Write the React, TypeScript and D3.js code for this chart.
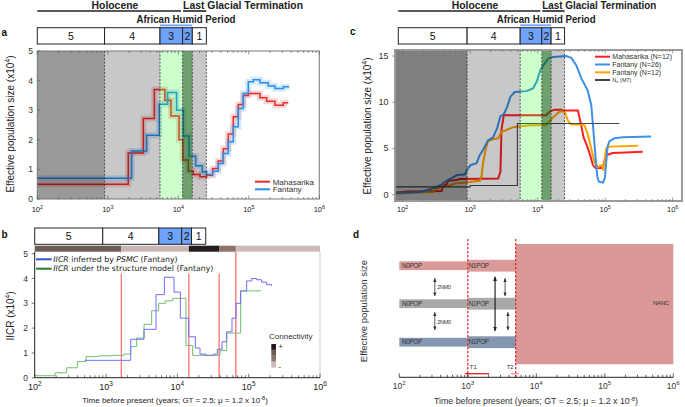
import React from 'react';
import * as d3 from 'd3';

// ---------------- data ----------------
const periodBounds = [900, 5500, 11500, 15800, 25000];
const periodLabels = ['5', '4', '3', '2', '1'];
const humidIdx = [2, 3];
const holoceneEnd = 11500;

// panel a (PSMC, step functions)
const aMahT = [100, 1950, 3190, 4570, 6460, 7870, 10240, 11600, 13900, 16300, 20300, 25240, 30690, 36900, 43450, 51170, 60250, 70940, 83530, 98400, 144000, 179000, 235000, 308000, 363000];
const aMahN = [0.5, 1.55, 2.72, 3.7, 3.34, 2.8, 2.0, 1.32, 0.94, 0.83, 0.75, 0.8, 1.03, 1.28, 1.7, 2.2, 2.78, 3.19, 3.5, 3.56, 3.42, 3.3, 3.17, 3.25, 3.25];
const aFanT = [100, 2180, 3560, 5370, 7060, 9460, 11770, 14170, 17620, 21890, 25240, 30690, 36900, 43450, 51170, 60250, 70940, 83530, 98400, 115900, 144000, 189000, 235000, 309000, 375000];
const aFanN = [0.7, 1.62, 2.15, 3.2, 3.6, 3.0, 2.13, 1.45, 1.12, 0.92, 0.83, 0.94, 1.2, 1.54, 1.93, 2.44, 3.06, 3.56, 3.96, 4.03, 3.93, 3.82, 3.73, 3.79, 3.79];

// panel b (IICR)
const bPsmcT = [502, 2218, 3410, 5024, 6576, 8977, 11020, 14430, 17880, 20790, 25230, 31970, 36380, 42290, 49170, 58400, 66400, 77200, 93700, 110200, 129400, 152000, 178600, 209900];
const bPsmcN = [0.7, 1.55, 1.95, 3.35, 4.05, 3.45, 2.4, 1.65, 1.2, 0.95, 0.9, 0.95, 1.15, 1.45, 1.85, 2.4, 3.0, 3.5, 3.9, 4.0, 3.95, 3.85, 3.75, 3.7];
const bStructT = [100, 193, 281, 397, 524, 789, 1200, 1786, 2218, 2690, 3410, 4366, 5470, 6793, 8610, 13210, 16400, 39630, 49170, 77200, 144200];
const bStructN = [0.08, 0.2, 0.4, 0.65, 0.85, 0.88, 0.9, 0.95, 1.25, 1.6, 2.15, 2.7, 3.0, 3.1, 3.2, 1.3, 0.9, 1.1, 1.8, 3.5, 3.55];
const connBounds = [100, 1640, 14500, 38500, 66000, 1000000];
const connColors = ['#6e5b53', '#c9b6b6', '#241d1d', '#8c736b', '#cdbaba'];
const connLegend = ['#231c1c', '#6e5b53', '#8c736b', '#cdbaba'];
const bVLines = [1640, 14500, 38500, 66000];

// panel c
const cMahT = [77, 115, 377, 399, 447, 473, 628, 703, 2594, 2806, 2904, 3145, 13430, 15030, 17820, 22370, 23660, 39420, 44170, 47840, 52380, 58660, 65750, 71940, 87250, 94470, 101100, 115900, 129800, 360600];
const cMahN = [0.2, 0.35, 0.4, 1.0, 1.1, 1.5, 1.6, 1.7, 1.75, 2.5, 7.0, 8.6, 8.6, 9.0, 9.2, 9.2, 9.1, 9.1, 7.5, 6.2, 5.5, 4.5, 3.2, 2.9, 2.9, 3.2, 4.2, 4.4, 4.5, 4.65];
const cFan26T = [77, 180, 284, 356, 447, 530, 628, 834, 903, 1011, 1241, 1390, 1592, 1845, 2187, 2506, 2807, 3145, 3523, 3946, 4573, 6801, 8531, 9775, 10950, 12690, 14210, 16850, 26520, 31440, 37260, 44190, 54820, 62120, 65720, 71160, 76170, 80620, 92360, 98880, 103500, 108300, 115900, 137400, 182400, 478400];
const cFan26N = [0.2, 0.3, 0.7, 1.0, 1.5, 1.8, 2.1, 2.2, 2.7, 3.2, 3.4, 4.3, 5.0, 5.9, 6.2, 7.2, 8.5, 8.7, 9.5, 10.6, 11.1, 11.2, 11.5, 12.3, 13.5, 14.2, 14.7, 14.9, 15.0, 14.8, 14.0, 12.6, 11.3, 9.7, 7.6, 4.5, 2.0, 1.4, 1.3, 1.8, 3.5, 5.2, 5.8, 6.1, 6.2, 6.3];
const cFan12T = [77, 144, 284, 300, 447, 593, 788, 1390, 1471, 1556, 1704, 1845, 2187, 2593, 2905, 3444, 4320, 7617, 13430, 15040, 17830, 21140, 25060, 28070, 31440, 39450, 49510, 55420, 62120, 69570, 77900, 90300, 94500, 98880, 103500, 115900, 304000];
const cFan12N = [0.1, 0.25, 0.3, 0.6, 0.9, 1.2, 1.3, 1.5, 2.0, 3.5, 5.0, 5.8, 6.0, 6.1, 6.8, 7.0, 7.3, 7.5, 7.5, 8.0, 8.5, 9.0, 9.0, 8.0, 7.6, 7.6, 7.5, 6.5, 5.0, 3.5, 3.0, 3.2, 2.6, 4.0, 5.0, 5.2, 5.3];
const neT = [77, 1000, 5000, 162000];
const neN = [0.85, 1.0, 7.7, 7.7];
const cLegend = ['Mahasarika (N=12)', 'Fantany (N=26)', 'Fantany (N=12)'];
const cColors = ['#ff1f1f', '#3d90e6', '#ffa200'];

// panel d
const dT1 = 1000;
const dT2 = 5000;
const dT1Range = [910, 2060];
const dT2Range = [4270, 5580];
const dRows = [
  { fill: '#d99a99', cy: 265.7 },
  { fill: '#a9a9a9', cy: 303.7 },
  { fill: '#8597b0', cy: 342.2 },
];
const dArrowSmallT = 330;
const dArrowBigT = 2500;
const dArrowRightT = [3500, 3850];

const FONT = 'Liberation Sans, Arial, sans-serif';

function pairs(t: number[], n: number[]): [number, number][] {
  return t.map((v, i) => [v, n[i]]);
}

function logTicks(lo: number, hi: number) {
  const out: { v: number; major: boolean; e: number }[] = [];
  for (let e = Math.floor(Math.log10(lo)); e <= Math.ceil(Math.log10(hi)); e++) {
    for (let m = 1; m <= 9; m++) {
      const v = m * Math.pow(10, e);
      if (v >= lo * 0.999 && v <= hi * 1.001) out.push({ v, major: m === 1, e });
    }
  }
  return out;
}

function Pow({ x, y, e, fs, fill = '#222' }: any) {
  return (
    <text x={x} y={y} fontSize={fs} textAnchor="middle" fill={fill} fontFamily={FONT}>
      10<tspan fontSize={fs * 0.72} dy={-fs * 0.42}>{e}</tspan>
    </text>
  );
}

function Periods({ x, start, top, titles, lgtLen = 120 }: any) {
  const edges = [start, ...periodBounds];
  const xs = edges.map((v: number) => x(v));
  const hEnd = x(holoceneEnd);
  const bTop = top + 27.7;
  const bH = 16.3;
  return (
    <g fontFamily={FONT}>
      {titles && (
        <g>
          <text x={(xs[0] + hEnd) / 2 + 5} y={top + 8.5} fontSize={10.4} fontWeight="bold" textAnchor="middle" fill="#222"
            textLength={46.7} lengthAdjust="spacingAndGlyphs">Holocene</text>
          <line x1={xs[0]} x2={hEnd - 1.5} y1={top + 11} y2={top + 11} stroke="#222" strokeWidth={1.6} />
          <text x={hEnd + 0.5} y={top + 8.5} fontSize={10.4} fontWeight="bold" fill="#222"
            textLength={lgtLen} lengthAdjust="spacingAndGlyphs">Last Glacial Termination</text>
          <line x1={hEnd + 0.5} x2={x(periodBounds[4])} y1={top + 11} y2={top + 11} stroke="#222" strokeWidth={1.6} />
          <text x={x(periodBounds[1]) - 23.5} y={top + 23} fontSize={10} fontWeight="bold" fill="#222"
            textLength={99} lengthAdjust="spacingAndGlyphs">African Humid Period</text>
          <line x1={x(periodBounds[1])} x2={x(periodBounds[3])} y1={top + 25.3} y2={top + 25.3} stroke="#6fa0ff" strokeWidth={1.8} />
        </g>
      )}
      {periodLabels.map((lab, i) => (
        <g key={lab}>
          <rect x={xs[i]} y={bTop} width={xs[i + 1] - xs[i]} height={bH}
            fill={humidIdx.includes(i) ? '#6fa3fb' : '#fff'} stroke="#222" strokeWidth={1} />
          <text x={(xs[i] + xs[i + 1]) / 2} y={bTop + bH / 2 + 3.8} fontSize={10.5} textAnchor="middle" fill="#111">{lab}</text>
        </g>
      ))}
    </g>
  );
}

function Bands({ x, lo, y0, y1, darkOp }: any) {
  const edges = [lo, ...periodBounds];
  const fills = [
    ['#000', darkOp],
    ['#000', 0.215],
    ['rgb(0,255,0)', 0.2],
    ['rgb(0,90,0)', 0.57],
    ['#000', 0.215],
  ];
  return (
    <g>
      {fills.map((f, i) => (
        <rect key={i} x={x(edges[i])} y={y0} width={x(edges[i + 1]) - x(edges[i])} height={y1 - y0}
          fill={f[0] as string} fillOpacity={f[1] as number} />
      ))}
      {periodBounds.map((b) => (
        <line key={b} x1={x(b)} x2={x(b)} y1={y0} y2={y1} stroke="#333" strokeWidth={0.8} strokeDasharray="2,1.5" />
      ))}
    </g>
  );
}

export default function App() {
  // ---- scales
  const xa = d3.scaleLog().domain([100, 1e6]).range([37.3, 319.3]);
  const ya = d3.scaleLinear().domain([0, 5]).range([199, 51]);
  const xb = d3.scaleLog().domain([100, 1e6]).range([34.7, 320]);
  const yb = d3.scaleLinear().domain([0, 5]).range([377.7, 253.7]);
  const xc = d3.scaleLog().domain([100, 1e6]).range([402.7, 672.7]);
  const yc = d3.scaleLinear().domain([0, 15]).range([194.7, 56]);
  const xd = d3.scaleLog().domain([100, 1e6]).range([399.3, 673.3]);
  const cLo = 77, cHi = 1.37e6;

  const stepA = d3.line<[number, number]>().x((d) => xa(d[0])).y((d) => ya(d[1])).curve(d3.curveStepAfter);
  const stepB = d3.line<[number, number]>().x((d) => xb(d[0])).y((d) => yb(d[1])).curve(d3.curveStepAfter);
  const linC = d3.line<[number, number]>().x((d) => xc(d[0])).y((d) => yc(d[1]));
  const stepC = d3.line<[number, number]>().x((d) => xc(d[0])).y((d) => yc(d[1])).curve(d3.curveStepAfter);

  const aTop = ya(5), aBot = ya(0), aL = xa(100), aR = xa(1e6);
  const cTop = 50, cBot = 201, cL = xc(cLo), cR = xc(cHi);
  const bTop = 252, bBot = yb(0), bL = xb(100), bR = xb(1e6);
  const dAxisY = 377.3;

  const ticksA = logTicks(100, 1e6);
  const ticksC = logTicks(80, 1e6);

  const arrowV = (x: number, y1: number, y2: number, w = 0.8, key?: any) => (
    <line key={key} x1={x} x2={x} y1={y1} y2={y2} stroke="#333" strokeWidth={w} markerStart="url(#ah)" markerEnd="url(#ah)" />
  );

  return (
    <svg width={685} height={407} viewBox="0 0 685 407" style={{ position: 'absolute', left: 0, top: 0, background: '#fff' }}
      fontFamily={FONT}>
      <defs>
        <marker id="ah" viewBox="0 0 10 10" refX="9" refY="5" markerWidth="5" markerHeight="5" orient="auto-start-reverse">
          <path d="M0,1 L10,5 L0,9 z" fill="#333" />
        </marker>
        <marker id="ahb" viewBox="0 0 10 10" refX="9" refY="5" markerWidth="4" markerHeight="4" orient="auto-start-reverse">
          <path d="M0,1 L10,5 L0,9 z" fill="#222" />
        </marker>
      </defs>
      <rect x={0} y={0} width={685} height={407} fill="#fff" />

      {/* ================= PANEL A ================= */}
      <text x={1.5} y={36} fontSize={10} fontWeight="bold" fill="#111">a</text>
      <Periods x={xa} start={100} top={0} titles lgtLen={120} />
      <g>
        <path d={stepA(pairs(aMahT, aMahN)) || ''} fill="none" stroke="#e84848" strokeOpacity={0.22} strokeWidth={6} />
        <path d={stepA(pairs(aFanT, aFanN)) || ''} fill="none" stroke="#4aa3f0" strokeOpacity={0.25} strokeWidth={6} />
        <path d={stepA(pairs(aMahT, aMahN)) || ''} fill="none" stroke="#ee2a2a" strokeWidth={1.5} />
        <path d={stepA(pairs(aFanT, aFanN)) || ''} fill="none" stroke="#2d8ee8" strokeWidth={1.5} />
      </g>
      <Bands x={xa} lo={100} y0={aTop} y1={aBot} darkOp={0.4} />
      <rect x={aL} y={aTop} width={aR - aL} height={aBot - aTop} fill="none" stroke="#777" strokeWidth={1} />
      {ticksA.map((t) => (
        <g key={'ta' + t.v}>
          <line x1={xa(t.v)} x2={xa(t.v)} y1={aBot} y2={aBot - (t.major ? 3.5 : 2)} stroke="#555" strokeWidth={0.6} />
          <line x1={xa(t.v)} x2={xa(t.v)} y1={aTop} y2={aTop + (t.major ? 3.5 : 2)} stroke="#555" strokeWidth={0.6} />
          {t.major && <Pow x={xa(t.v)} y={212} e={t.e} fs={7.5} />}
        </g>
      ))}
      {d3.range(0, 6).map((v) => (
        <g key={'ya' + v}>
          <line x1={aL} x2={aL + 3} y1={ya(v)} y2={ya(v)} stroke="#555" strokeWidth={0.6} />
          <text x={33} y={ya(v) + 3} fontSize={8.5} textAnchor="end" fill="#333">{v}</text>
        </g>
      ))}
      <text transform={`translate(13.5,124) rotate(-90)`} fontSize={10} textAnchor="middle" fill="#222">
        Effective population size (x10<tspan fontSize={7} dy={-4}>4</tspan><tspan dy={4}>)</tspan>
      </text>
      <line x1={255} x2={270} y1={181.7} y2={181.7} stroke="#ee2a2a" strokeWidth={2} />
      <line x1={255} x2={270} y1={189.3} y2={189.3} stroke="#2d8ee8" strokeWidth={2} />
      <text x={272.7} y={184.6} fontSize={8} fill="#333">Mahasarika</text>
      <text x={272.7} y={192.2} fontSize={8} fill="#333">Fantany</text>

      {/* ================= PANEL C ================= */}
      <text x={350} y={35} fontSize={10} fontWeight="bold" fill="#111">c</text>
      <Periods x={xc} start={86} top={0} titles lgtLen={114} />
      <g>
        <path d={linC(pairs(cMahT, cMahN)) || ''} fill="none" stroke={cColors[0]} strokeWidth={2} />
        <path d={linC(pairs(cFan12T, cFan12N)) || ''} fill="none" stroke={cColors[2]} strokeWidth={2} />
        <path d={linC(pairs(cFan26T, cFan26N)) || ''} fill="none" stroke={cColors[1]} strokeWidth={2} />
        <path d={stepC(pairs(neT, neN)) || ''} fill="none" stroke="#444" strokeWidth={1.1} />
      </g>
      <Bands x={xc} lo={cLo} y0={cTop} y1={cBot} darkOp={0.5} />
      <rect x={cL} y={cTop} width={cR - cL} height={cBot - cTop} fill="none" stroke="#9a9a9a" strokeWidth={2} />
      {ticksC.map((t) => (
        <g key={'tc' + t.v}>
          <line x1={xc(t.v)} x2={xc(t.v)} y1={cBot} y2={cBot - (t.major ? 3.5 : 2)} stroke="#666" strokeWidth={0.6} />
          <line x1={xc(t.v)} x2={xc(t.v)} y1={cTop} y2={cTop + (t.major ? 3.5 : 2)} stroke="#666" strokeWidth={0.6} />
          {t.major && <Pow x={xc(t.v)} y={212} e={t.e} fs={7.5} />}
        </g>
      ))}
      {[0, 5, 10, 15].map((v) => (
        <g key={'yc' + v}>
          <line x1={cL - 3} x2={cL} y1={yc(v)} y2={yc(v)} stroke="#666" strokeWidth={0.6} />
          <text x={388.5} y={yc(v) + 3} fontSize={9} textAnchor="end" fill="#333">{v}</text>
        </g>
      ))}
      <text transform={`translate(371,126) rotate(-90)`} fontSize={10} textAnchor="middle" fill="#222">
        Effective population size (x10<tspan fontSize={7} dy={-4}>4</tspan><tspan dy={4}>)</tspan>
      </text>
      {cLegend.map((lab, i) => (
        <g key={lab}>
          <line x1={595} x2={610} y1={56.7 + i * 7.8} y2={56.7 + i * 7.8} stroke={cColors[i]} strokeWidth={2} />
          <text x={612.3} y={59.2 + i * 7.8} fontSize={7} fill="#333">{lab}</text>
        </g>
      ))}
      <line x1={595} x2={610} y1={80} y2={80} stroke="#444" strokeWidth={2} />
      <text x={612.3} y={82} fontSize={5.5} fill="#333">N<tspan fontSize={4} dy={1}>e</tspan><tspan dy={-1}> (M7)</tspan></text>

      {/* ================= PANEL B ================= */}
      <text x={1.5} y={238} fontSize={10} fontWeight="bold" fill="#111">b</text>
      <Periods x={xb} start={100} top={200.3} titles={false} />
      {connColors.map((c, i) => (
        <rect key={'cb' + i} x={xb(connBounds[i])} y={245.7} width={xb(connBounds[i + 1]) - xb(connBounds[i])} height={6} fill={c} />
      ))}
      <line x1={bR} x2={bR} y1={bTop} y2={bBot} stroke="#ccc" strokeWidth={1} />
      {bVLines.map((v) => (
        <line key={'vl' + v} x1={xb(v)} x2={xb(v)} y1={bTop} y2={bBot} stroke="#ff7070" strokeWidth={1.3} />
      ))}
      <path d={stepB(pairs(bStructT, bStructN)) || ''} fill="none" stroke="#70bd70" strokeWidth={1} />
      <path d={stepB(pairs(bPsmcT, bPsmcN)) || ''} fill="none" stroke="#6f6ff5" strokeWidth={1} />
      <rect x={bL + 0.6} y={bTop + 0.5} width={191} height={21} fill="#fff" />
      <line x1={36} x2={51.7} y1={259.3} y2={259.3} stroke="#2f55c8" strokeWidth={2} />
      <line x1={36} x2={51.7} y1={268.7} y2={268.7} stroke="#2c7a2c" strokeWidth={2} />
      <text x={53.3} y={262} fontSize={7.8} fill="#222" fontFamily="DejaVu Sans, sans-serif">
        <tspan fontStyle="italic">IICR</tspan> inferred by <tspan fontStyle="italic">PSMC</tspan> (Fantany)
      </text>
      <text x={53.3} y={271.4} fontSize={7.8} fill="#222" fontFamily="DejaVu Sans, sans-serif">
        <tspan fontStyle="italic">IICR</tspan> under the structure model (Fantany)
      </text>
      <line x1={bL} x2={bL} y1={bTop} y2={bBot} stroke="#222" strokeWidth={1} />
      <line x1={bL} x2={bR} y1={bBot} y2={bBot} stroke="#222" strokeWidth={1} />
      {ticksA.map((t) => (
        <g key={'tb' + t.v}>
          <line x1={xb(t.v)} x2={xb(t.v)} y1={bBot} y2={bBot - (t.major ? 4 : 2.5)} stroke="#222" strokeWidth={0.6} />
          {t.major && <Pow x={xb(t.v)} y={390} e={t.e} fs={9} />}
        </g>
      ))}
      {d3.range(0, 6).map((v) => (
        <g key={'yb' + v}>
          <line x1={bL - 3} x2={bL} y1={yb(v)} y2={yb(v)} stroke="#222" strokeWidth={0.6} />
          <text x={28} y={yb(v) + 3} fontSize={8.5} textAnchor="end" fill="#333">{v}</text>
        </g>
      ))}
      <text transform={`translate(14,316) rotate(-90)`} fontSize={10} textAnchor="middle" fill="#222">
        IICR (x10<tspan fontSize={6.5} dy={-4}>4</tspan><tspan dy={4}>)</tspan>
      </text>
      <text x={269} y={338.5} fontSize={8} fill="#333">Connectivity</text>
      {connLegend.map((c, i) => (
        <rect key={'cl' + i} x={271.3} y={344 + i * 5.9} width={4.7} height={5.9} fill={c} />
      ))}
      <text x={278.5} y={348.5} fontSize={7.5} fill="#222">+</text>
      <text x={278.5} y={369} fontSize={7.5} fill="#222">-</text>
      <text x={175} y={403} fontSize={8} textAnchor="middle" fill="#222">
        Time before present (years; GT = 2.5; μ = 1.2 x 10<tspan fontSize={5.5} dy={-3}>-8</tspan><tspan dy={3}>)</tspan>
      </text>

      {/* ================= PANEL D ================= */}
      <text x={353} y={238} fontSize={10} fontWeight="bold" fill="#111">d</text>
      <rect x={xd(dT2)} y={244} width={xd(1e6) - xd(dT2)} height={120.3} fill="#d99795" />
      <text x={653} y={304.5} fontSize={6} fill="#333" letterSpacing={-0.3}>NANC</text>
      {dRows.map((r, i) => (
        <g key={'row' + i}>
          <rect x={xd(100)} y={r.cy - 4.4} width={xd(dT1) - xd(100)} height={8.8} fill={r.fill} />
          <rect x={xd(dT1)} y={r.cy - 5.9} width={xd(dT2) - xd(dT1)} height={11.8} fill={r.fill} />
          <text x={402} y={r.cy + 2.2} fontSize={6.3} fill="#333" letterSpacing={-0.3}>N0POP</text>
          <text x={xd(dT1) + 1} y={r.cy + 2.2} fontSize={6.3} fill="#333" letterSpacing={-0.3}>N1POP</text>
        </g>
      ))}
      {arrowV(xd(dArrowSmallT), 278.3, 296, 0.8, 'a1')}
      {arrowV(xd(dArrowSmallT), 312.3, 330, 0.8, 'a2')}
      <text x={xd(dArrowSmallT) + 2.5} y={289} fontSize={5.5} fill="#333" letterSpacing={-0.3}>2NM0</text>
      <text x={xd(dArrowSmallT) + 2.5} y={323.5} fontSize={5.5} fill="#333" letterSpacing={-0.3}>2NM0</text>
      <line x1={xd(dArrowBigT)} x2={xd(dArrowBigT)} y1={276.7} y2={331} stroke="#222" strokeWidth={1.2}
        markerStart="url(#ahb)" markerEnd="url(#ahb)" />
      {arrowV(xd(dArrowRightT[0]), 278.3, 296, 0.8, 'a3')}
      {arrowV(xd(dArrowRightT[1]), 312.3, 330, 0.8, 'a4')}
      {[dT1, dT2].map((t) => (
        <line key={'dl' + t} x1={xd(t)} x2={xd(t)} y1={239} y2={dAxisY} stroke="#e02020" strokeWidth={1.2} strokeDasharray="2.5,1.5" />
      ))}
      <line x1={xd(dT1Range[0])} x2={xd(dT1Range[1])} y1={373.7} y2={373.7} stroke="#e03030" strokeWidth={1.4} />
      <line x1={xd(dT2Range[0])} x2={xd(dT2Range[1])} y1={373.7} y2={373.7} stroke="#f29a9a" strokeWidth={1.4} />
      <text x={xd(dT1) + 2} y={369} fontSize={6} fill="#333">T1</text>
      <text x={xd(dT2) - 2} y={369} fontSize={6} fill="#333" textAnchor="end">T2</text>
      <line x1={xd(100)} x2={xd(1e6)} y1={dAxisY} y2={dAxisY} stroke="#222" strokeWidth={1} />
      {ticksA.map((t) => (
        <g key={'td' + t.v}>
          <line x1={xd(t.v)} x2={xd(t.v)} y1={dAxisY} y2={dAxisY - (t.major ? 4 : 2.5)} stroke="#222" strokeWidth={0.7} />
          {t.major && <Pow x={xd(t.v)} y={389} e={t.e} fs={8.5} fill="#333" />}
        </g>
      ))}
      <text transform={`translate(367,311) rotate(-90)`} fontSize={9.5} textAnchor="middle" fill="#333">Effective population size</text>
      <text x={536} y={404} fontSize={8.8} textAnchor="middle" fill="#333">
        Time before present (years; GT = 2.5; μ = 1.2 x 10<tspan fontSize={6} dy={-3}>-8</tspan><tspan dy={3}>)</tspan>
      </text>
    </svg>
  );
}
